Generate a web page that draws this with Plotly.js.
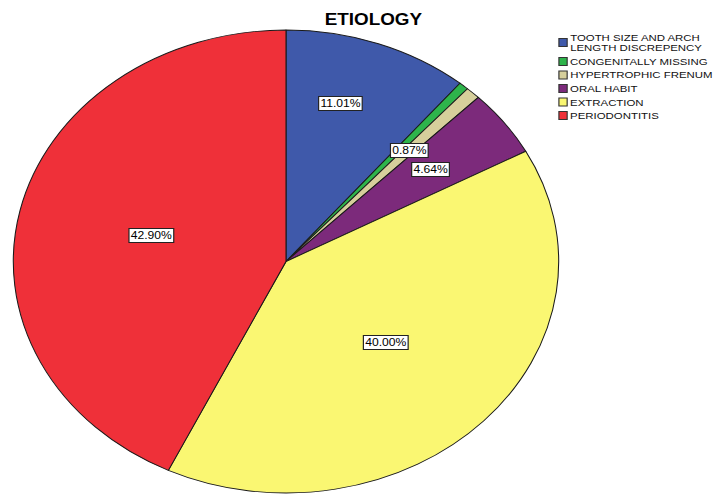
<!DOCTYPE html>
<html>
<head>
<meta charset="utf-8">
<script src="https://cdn.plot.ly/plotly-3.0.1.min.js"></script>
<style>
  html, body { margin: 0; padding: 0; background: #ffffff; overflow: hidden; }
  #chart { width: 607px; height: 495px; transform: scaleX(1.1779); transform-origin: 0 0; }
</style>
</head>
<body>
<div id="chart"></div>
<script>
// ---- data ----
const chartTitle = 'ETIOLOGY';
const categories = [
  'TOOTH SIZE AND ARCH<br>LENGTH DISCREPENCY',
  'CONGENITALLY MISSING',
  'HYPERTROPHIC FRENUM',
  'ORAL HABIT',
  'EXTRACTION',
  'PERIODONTITIS'
];
const percents = [11.01, 0.58, 0.87, 4.64, 40.00, 42.90];
const colors = ['#3f59aa', '#2eb44b', '#d6cf9b', '#7c2a7b', '#faf772', '#ef3039'];

// ---- layout helpers (unscaled pixel space; whole chart is stretched horizontally) ----
const W = 607, H = 495;
const CX = 242.8, CY = 261.5, R = 231.5;
const FONT = 'Liberation Sans, Arial, Helvetica, sans-serif';
const px2x = p => p / W;
const py2y = p => 1 - p / H;

const trace = {
  type: 'pie',
  labels: categories,
  values: percents,
  sort: false,
  direction: 'clockwise',
  rotation: 0,
  marker: { colors: colors, line: { color: '#1a1a1a', width: 0.9 } },
  textinfo: 'none',
  hoverinfo: 'none',
  showlegend: false,
  domain: { x: [px2x(CX - R), px2x(CX + R)], y: [py2y(CY + R), py2y(CY - R)] }
};

// percentage labels, placed at each slice's mid angle
const total = percents.reduce((a, b) => a + b, 0);
const annotations = [];
let cum = 0;
percents.forEach((p, i) => {
  const mid = (cum + p / 2) / total * 2 * Math.PI;
  cum += p;
  if (p < 0.75) return;
  const frac = p >= 20 ? 0.505 : (p >= 10 ? 0.71 : 0.66);
  const ang = p >= 10 && p < 20 ? mid * 0.82 : mid;
  const x = CX + frac * R * Math.sin(ang);
  const y = CY - frac * R * Math.cos(ang);
  annotations.push({
    xref: 'paper', yref: 'paper', x: px2x(x), y: py2y(y),
    xanchor: 'center', yanchor: 'middle', showarrow: false,
    text: p.toFixed(2) + '%',
    font: { family: FONT, size: 10.3, color: '#000' },
    bgcolor: '#ffffff', bordercolor: '#222', borderwidth: 1, borderpad: 1
  });
});

// legend (drawn on the right)
const shapes = [];
const legX0 = 474.5, legX1 = 481.5, legTextX = 483;
const rowY = [42.5, 61.5, 75, 88.5, 102, 115.5];
categories.forEach((c, i) => {
  const yc = rowY[i];
  shapes.push({
    type: 'rect', xref: 'paper', yref: 'paper',
    x0: px2x(legX0), x1: px2x(legX1), y0: py2y(yc + 4), y1: py2y(yc - 4),
    fillcolor: colors[i], line: { color: '#333', width: 1 }
  });
  const lines = c.split('<br>');
  lines.forEach((ln, k) => {
    const ly = lines.length > 1 ? yc - 4.7 + k * 9.6 : yc;
    annotations.push({
      xref: 'paper', yref: 'paper', x: px2x(legTextX), y: py2y(ly),
      xanchor: 'left', yanchor: 'middle', showarrow: false,
      text: ln, font: { family: FONT, size: 9.7, color: '#111' },
      borderpad: 0
    });
  });
});

const layout = {
  width: W, height: H,
  margin: { l: 0, r: 0, t: 0, b: 0 },
  paper_bgcolor: '#ffffff',
  showlegend: false,
  title: {
    text: chartTitle,
    x: 317 / W, xanchor: 'center', xref: 'container',
    y: 1 - 19 / H, yanchor: 'middle', yref: 'container',
    font: { family: FONT, size: 16, color: '#000', weight: 700 }
  },
  annotations: annotations,
  shapes: shapes
};

Plotly.newPlot('chart', [trace], layout, { staticPlot: true, displayModeBar: false });
</script>
</body>
</html>
